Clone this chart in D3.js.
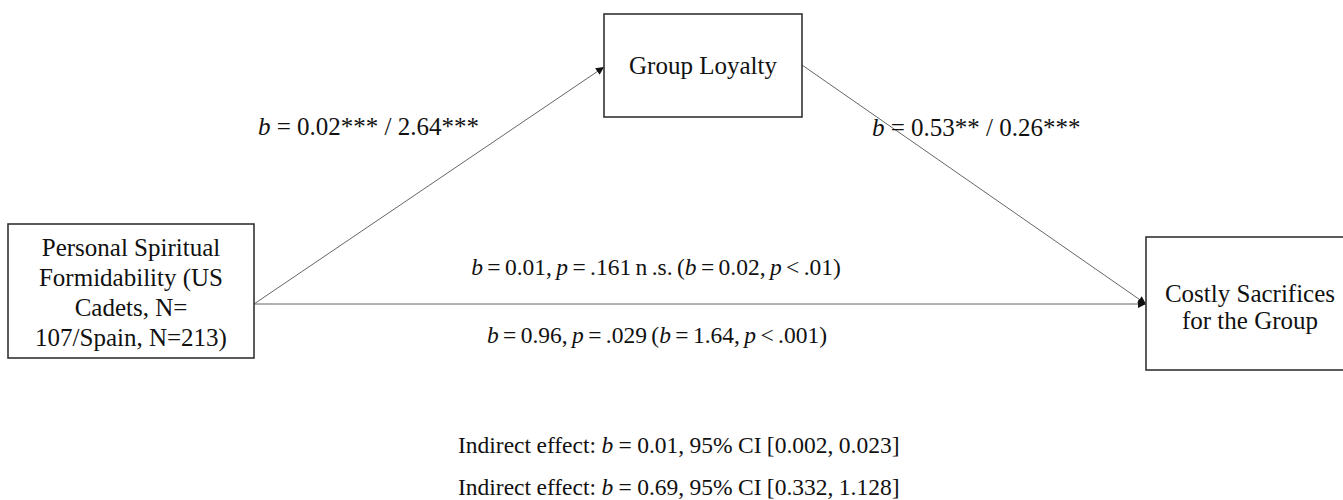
<!DOCTYPE html>
<html>
<head>
<meta charset="utf-8">
<script src="https://cdn.jsdelivr.net/npm/d3@7"></script>
<style>
    body { margin: 0; background: #fff; }
    svg { display: block; font-family: "Liberation Serif", "Times New Roman", serif; }
</style>
</head>
<body>
<div id="diagram"></div>
<script>
// node ids and the text in each box
const nodeIds = ["predictor", "mediator", "outcome"];
const nodeLines = [
    ["Personal Spiritual", "Formidability (US", "Cadets, N=", "107/Spain, N=213)"],
    ["Group Loyalty"],
    ["Costly Sacrifices", "for the Group"]
];

// arrows between boxes
const arrowFrom = ["predictor", "mediator", "predictor"];
const arrowTo = ["mediator", "outcome", "outcome"];

// path coefficients (_x_ = italic)
const pathA = "_b_ = 0.02*** / 2.64***";
const pathB = "_b_ = 0.53** / 0.26***";
const directLabels = [
    "_b_ = 0.01, _p_ = .161 n .s. (_b_ = 0.02, _p_ < .01)",
    "_b_ = 0.96, _p_ = .029 (_b_ = 1.64, _p_ < .001)"
];
const indirectLabels = [
    "Indirect effect: _b_ = 0.01, 95% CI [0.002, 0.023]",
    "Indirect effect: _b_ = 0.69, 95% CI [0.332, 1.128]"
];

(function draw() {
    const width = 1343;
    const height = 500;
    const fontSize = 25;

    const svg = d3.select("#diagram")
        .append("svg")
        .attr("width", width)
        .attr("height", height);

    svg.append("rect")
        .attr("width", width)
        .attr("height", height)
        .attr("fill", "#fff");

    //box layout
    const layout = {
        predictor: { x: 8, y: 224, w: 246, h: 134, lineGap: 30, firstBase: 256, inY: 304, outY: 304 },
        mediator: { x: 604, y: 14, w: 198, h: 103, lineGap: 30, firstBase: 74, inY: 67, outY: 65 },
        outcome: { x: 1146, y: 237, w: 208, h: 133, lineGap: 27, firstBase: 302, inY: 304, outY: 304 }
    };

    const defs = svg.append("defs");
    defs.append("marker")
        .attr("id", "arrow")
        .attr("viewBox", "0 0 10 10")
        .attr("refX", 10)
        .attr("refY", 5)
        .attr("markerWidth", 11)
        .attr("markerHeight", 8)
        .attr("markerUnits", "userSpaceOnUse")
        .attr("orient", "auto")
        .append("path")
        .attr("d", "M0,0 L10,5 L0,10 Z")
        .attr("fill", "#111");

    //arrows
    const arrows = arrowFrom.map((f, i) => ({ from: layout[f], to: layout[arrowTo[i]] }));
    svg.append("g")
        .selectAll("line")
        .data(arrows)
        .enter()
        .append("line")
        .attr("x1", d => d.from.x + d.from.w)
        .attr("y1", d => d.from.outY)
        .attr("x2", d => d.to.x)
        .attr("y2", d => d.to.inY)
        .attr("stroke", "#666")
        .attr("stroke-width", 1)
        .attr("marker-end", "url(#arrow)");

    //boxes
    const nodes = nodeIds.map((id, i) => ({ id, lines: nodeLines[i], box: layout[id] }));
    const nodeG = svg.append("g")
        .selectAll("g")
        .data(nodes)
        .enter()
        .append("g");

    nodeG.append("rect")
        .attr("x", d => d.box.x)
        .attr("y", d => d.box.y)
        .attr("width", d => d.box.w)
        .attr("height", d => d.box.h)
        .attr("fill", "#fff")
        .attr("stroke", "#333")
        .attr("stroke-width", 1.6);

    nodeG.each(function (d) {
        d3.select(this)
            .selectAll("text")
            .data(d.lines)
            .enter()
            .append("text")
            .attr("x", d.box.x + d.box.w / 2)
            .attr("y", (t, i) => d.box.firstBase + i * d.box.lineGap)
            .attr("text-anchor", "middle")
            .attr("font-size", fontSize)
            .attr("fill", "#111")
            .text(t => t);
    });

    //labels with italic b / p
    function label(str, x, y, anchor, size, wordSpacing) {
        const text = svg.append("text")
            .attr("x", x)
            .attr("y", y)
            .attr("text-anchor", anchor)
            .attr("font-size", size)
            .attr("fill", "#111")
            .style("word-spacing", (wordSpacing || 0) + "px");
        str.split(/(_\w_)/).filter(s => s.length).forEach(part => {
            const italic = /^_\w_$/.test(part);
            text.append("tspan")
                .style("font-style", italic ? "italic" : "normal")
                .attr("xml:space", "preserve")
                .text(italic ? part.slice(1, -1) : part);
        });
    }

    label(pathA, 258, 135, "start", fontSize);
    label(pathB, 872, 136, "start", fontSize);
    label(directLabels[0], 656, 275, "middle", 23.5, -1.5);
    label(directLabels[1], 657, 343, "middle", 23.5, -1.5);
    label(indirectLabels[0], 458, 453, "start", 23.5, -0.5);
    label(indirectLabels[1], 458, 495, "start", 23.5, -0.5);
})();
</script>
</body>
</html>
